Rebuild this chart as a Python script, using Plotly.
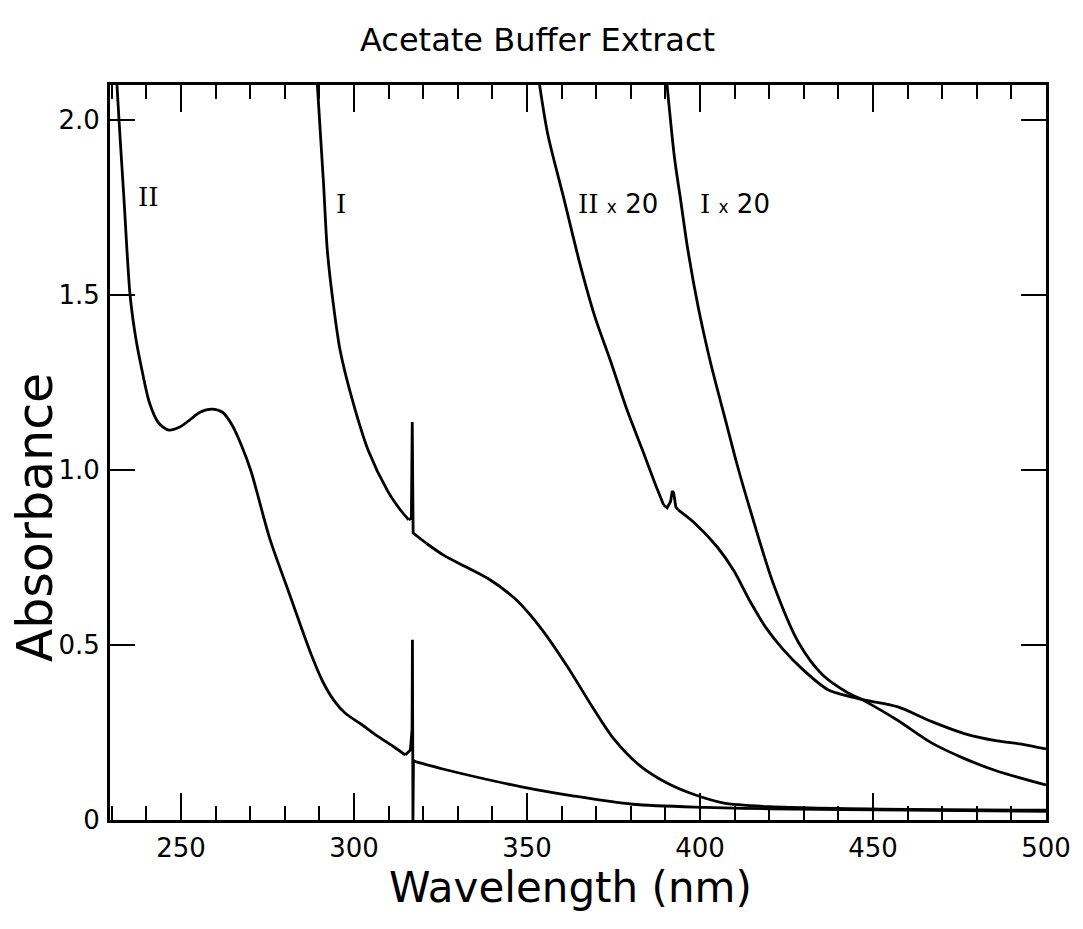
import plotly.graph_objects as go

# ---- data ----
lam_II = [231.4, 232.1, 233.5, 235.3, 236.9, 238.7, 240.9, 243.5, 246.5, 249.5, 252.3, 255.5, 259.0,
          262.0, 264.7, 267.5, 270.3, 275.7, 281.2, 287.8, 291.0, 294.2, 297.5, 301.9, 306.5, 311.4,
          314.8, 316.3, 316.8, 316.9, 317.05, 317.2, 318.0, 326.0, 334.4, 348.8, 363.2, 380.5, 401.6,
          420.1, 460.0, 500.0]
abs_II = [2.12, 2.00, 1.78, 1.50, 1.38, 1.287, 1.192, 1.135, 1.114, 1.122, 1.141, 1.165, 1.174,
          1.165, 1.130, 1.070, 0.995, 0.803, 0.650, 0.469, 0.395, 0.342, 0.305, 0.275, 0.242, 0.210,
          0.186, 0.200, 0.260, 0.515, 0.0, 0.170, 0.166, 0.145, 0.125, 0.094, 0.069, 0.045, 0.036,
          0.032, 0.028, 0.025]

lam_I = [289.3, 291.2, 292.3, 293.9, 296.0, 299.6, 304.2, 309.8, 313.5, 315.8, 316.6, 316.85, 317.1,
         321.0, 326.0, 332.0, 339.2, 346.9, 354.5, 361.9, 368.6, 375.1, 382.8, 390.2, 397.1, 406.6,
         420.2, 460.0, 500.0]
abs_I = [2.12, 1.82, 1.628, 1.485, 1.342, 1.198, 1.054, 0.939, 0.885, 0.858, 0.862, 1.137, 0.820,
         0.790, 0.756, 0.725, 0.687, 0.629, 0.542, 0.435, 0.328, 0.232, 0.154, 0.107, 0.077, 0.049,
         0.038, 0.030, 0.028]

lam_II20 = [353.5, 356.0, 360.6, 365.1, 369.5, 374.2, 378.8, 383.3, 386.9, 389.5, 390.5, 391.5, 392.0,
            392.4, 393.0, 393.7, 398.5, 405.0, 409.8, 414.3, 419.1, 423.9, 429.6, 437.0, 442.8, 448.5,
            457.2, 467.0, 476.4, 485.9, 492.9, 500.0]
abs_II20 = [2.11, 1.96, 1.778, 1.597, 1.442, 1.31, 1.175, 1.059, 0.964, 0.900, 0.892, 0.910, 0.940,
            0.935, 0.895, 0.886, 0.848, 0.780, 0.712, 0.628, 0.549, 0.489, 0.431, 0.372, 0.354, 0.341,
            0.323, 0.281, 0.247, 0.226, 0.217, 0.203]

lam_I20 = [390.3, 392.6, 394.4, 396.5, 399.5, 403.1, 407.6, 410.6, 414.7, 421.2, 428.6, 435.4, 442.8,
           446.8, 449.6, 457.1, 466.8, 476.3, 485.8, 500.0]
abs_I20 = [2.12, 1.895, 1.772, 1.629, 1.465, 1.305, 1.134, 1.02, 0.88, 0.675, 0.505, 0.415, 0.363,
           0.344, 0.329, 0.285, 0.221, 0.176, 0.140, 0.100]

# index ranges of the sharp lamp-change artefacts (drawn straight, the rest smooth)
spike_II = (26, 32)
spike_I = (9, 13)
spike_II20 = (9, 15)

x_ticks = [250, 300, 350, 400, 450, 500]
y_ticks = [0, 0.5, 1.0, 1.5, 2.0]
y_tick_text = ["0", "0.5", "1.0", "1.5", "2.0"]

label_x = [240.5, 296.3, 376.2, 410.0]
label_y = [1.78, 1.76, 1.76, 1.76]
label_text = [
    "<span style='font-family:DejaVu Serif'>II</span>",
    "<span style='font-family:DejaVu Serif'>I</span>",
    "<span style='font-family:DejaVu Serif'>II</span> <span style='font-size:17px'>x</span> 20",
    "<span style='font-family:DejaVu Serif'>I</span> <span style='font-size:17px'>x</span> 20",
]

fig = go.Figure()
line_style = dict(color="black", width=2.8)


def add_curve(lx, ly, spike=None):
    if spike is None:
        pieces = [(0, len(lx) - 1, "spline")]
    else:
        a, b = spike
        pieces = [(0, a, "spline"), (a, b, "linear"), (b, len(lx) - 1, "spline")]
    for s, e, shape in pieces:
        ls = dict(line_style, shape=shape)
        if shape == "spline":
            ls["smoothing"] = 0.8
        fig.add_trace(go.Scatter(x=lx[s:e + 1], y=ly[s:e + 1], mode="lines", line=ls,
                                 showlegend=False, hoverinfo="skip"))


add_curve(lam_II, abs_II, spike_II)
add_curve(lam_I, abs_I, spike_I)
add_curve(lam_II20, abs_II20, spike_II20)
add_curve(lam_I20, abs_I20)

for cx, cy, txt in zip(label_x, label_y, label_text):
    fig.add_annotation(x=cx, y=cy, text=txt, showarrow=False,
                       font=dict(family="DejaVu Sans", size=26, color="black"))

fig.add_annotation(text="Acetate Buffer Extract", xref="paper", yref="paper", x=0.457, y=1.061,
                   xanchor="center", yanchor="middle", showarrow=False,
                   font=dict(family="DejaVu Sans", size=32, color="black"))
fig.add_annotation(text="Wavelength (nm)", xref="paper", yref="paper", x=0.4915, y=-0.0925,
                   xanchor="center", yanchor="middle", showarrow=False,
                   font=dict(family="DejaVu Sans", size=42, color="black"))
fig.add_annotation(text="Absorbance", xref="paper", yref="paper", x=-0.08, y=0.412,
                   xanchor="center", yanchor="middle", textangle=-90, showarrow=False,
                   font=dict(family="DejaVu Sans", size=49, color="black"))

fig.update_xaxes(range=[229.5, 500], tickvals=x_ticks, ticks="inside", ticklen=27, tickwidth=2.2,
                 tickcolor="black", showline=True, linecolor="black", linewidth=2.8, mirror="ticks",
                 showgrid=False, zeroline=False, ticklabelstandoff=3,
                 tickfont=dict(family="DejaVu Sans", size=26, color="black"),
                 minor=dict(dtick=10, tick0=0, ticks="inside", ticklen=14, tickwidth=2,
                            tickcolor="black", showgrid=False))
fig.update_yaxes(range=[0, 2.1], tickvals=y_ticks, ticktext=y_tick_text, ticks="inside",
                 ticklen=25, tickwidth=2.2, tickcolor="black", showline=True, linecolor="black",
                 linewidth=2.8, mirror="ticks", showgrid=False, zeroline=False,
                 ticklabelstandoff=2,
                 tickfont=dict(family="DejaVu Sans", size=26, color="black"))

fig.update_layout(width=1083, height=929, paper_bgcolor="white", plot_bgcolor="white",
                  margin=dict(l=110, r=37, t=85, b=109), showlegend=False)

fig.write_html("out.html")
